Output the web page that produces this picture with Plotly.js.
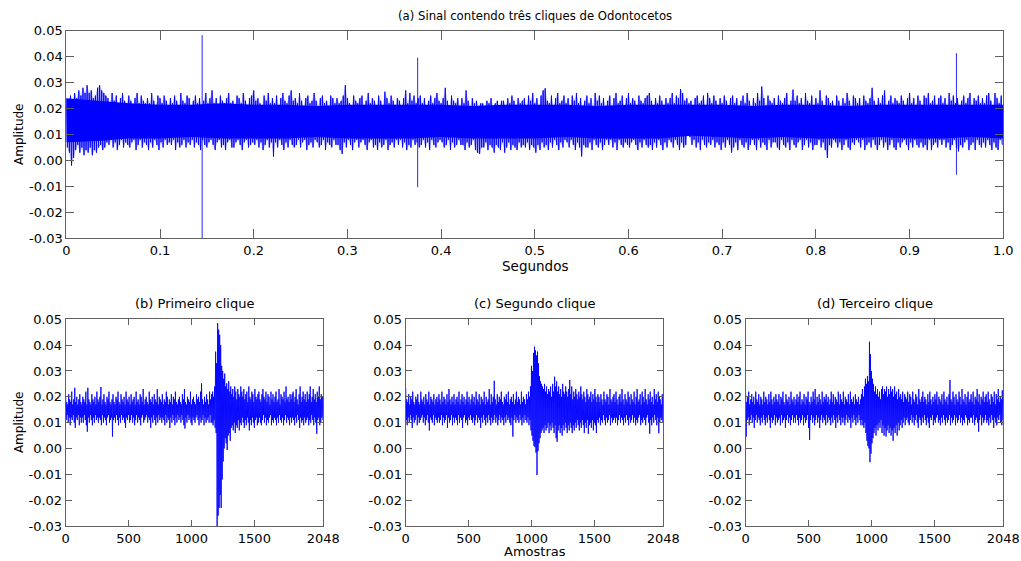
<!DOCTYPE html>
<html>
<head>
<meta charset="utf-8">
<script src="https://cdn.plot.ly/plotly-3.0.1.min.js"></script>
<style>html,body{margin:0;padding:0;background:#fff;}#chart{width:1021px;height:561px;}</style>
</head>
<body>
<div id="chart"></div>
<script>
// ---------------- DATA (amplitudes, in thousandths) ----------------
const MILLI = 0.001;

// Panel (a): 1 s of signal, upper/lower envelope read at 450 instants (every 1/450 s)
const sigA_dt = 1 / 450;
const sigA_hi = [
 24,22,25,23,26,24,27,25,28,26, 29,26,27,24,25,28,29,27,26,25, 24,22,26,23,25,21,24,26,23,22,
 25,23,21,24,26,22,25,23,22,24, 22,26,23,21,25,24,22,25,23,21, 24,22,25,23,21,26,23,22,25,24,
 21,23,25,22,24,21,23,26,22,24, 27,22,24,21,25,23,22,24,26,22, 23,21,25,24,22,26,23,21,24,25,
 27,23,24,22,21,25,23,26,22,24, 22,25,21,24,26,23,22,25,27,23, 24,22,26,23,21,24,25,22,23,26,
 23,21,24,25,22,23,21,25,24,22, 24,22,23,25,29,24,22,21,25,23, 22,24,25,21,23,26,22,24,23,21,
 25,23,21,26.5,24,22,25,23,21,24, 23,21,24,27,22,26,23,25,22,24, 25,22,24,21,23,25,22,24,26,23,
 22,24,28,23,21,25,23,22,24,21, 24,22,27,23,21,24,22,23,21,22, 22,21,23,22,24,21,22,23,21,23,
 23,21,24,22,25,23,21,24,22,23, 24,21,25,23,26,22,24,21,25,27, 27.8,23,22,25,21,24,26,22,23,25,
 22,24,21,25,23,26,22,24,21,23, 25,22,24,21,26,23,25,22,24,21, 23,25,21,24,26,22,23,25,21,24,
 26,22,24,23,21,25,23,22,24,25, 26,23,21,24,22,25,23,21,24,22, 24,26,22,25,24,27.5,26,23,24,22,
 23,21,24,25,22,23,25,21,26,24, 22,25,23,21,24,22,25,23,21,24, 25,22,24,21,23,25,22,26,23,21,
 24,22,26,23,28.5,24,21,25,23,22, 24,21,25,23,22,24,26,21,23,27.3, 23,25,22,24,21,26,23,22,25,21,
 24,22,27,23,21,25,24,22,23,21, 25,23,21,24,22,26,23,21,25,24, 22,24,21,25,23,22,24,28,23,21,
 24,22,25,27,21,23,25,22,24,23, 22,25,23,21,24,26,22,24,21,25, 23,21,25,24,26,22,23,25,21,24,
 25,22,24,21,26,23,25,22,24,21, 23,25,22,24,26,21,24,23,25,22, 24,22,25,26,23,21,26,24,22,25
];
const sigA_lo = [
 5,3,-2,1,4,6,3,5,2,4, 3,5,2,4,3,5,6,4,5,7, 6,8,5,7,4,6,8,5,7,6,
 5,7,8,4,6,8,5,7,6,4, 7,5,8,6,4,7,5,8,6,7, 6,8,4,7,5,6,8,5,7,6,
 8,5,7,6,4,8,6,5,7,8, 6,4,7,8,5,6,4,7,8,5, 5,7,8,6,4,7,8,5,6,7,
 6,8,5,7,4,6,8,5,7,1.5, 7,5,8,6,4,7,5,8,6,5, 6,8,5,7,8,4,6,7,5,8,
 7,5,6,8,4,7,6,5,8,6, 6,4,2.5,7,5,8,6,4,7,8, 5,7,8,6,4,7,8,5,6,4,
 7,5,6,8,4,6,7,5,8,6, 8,5,7,4,6,5,8,6,7,5, 6,8,5,7,4,8,6,5,7,8,
 7,5,6,8,4,7,5,6,8,6, 6,4,7,5,6,8,4,3,2.5,5, 5,7,4,6,5,3,6,5,4,7,
 3,5,7,4,6,5,4,7,5,6, 5,7,4,6,5,3,6,4,7,5, 6,4,7,5,8,6,4,7,5,8,
 7,5,8,6,4,7,5,1.5,6,5, 5,7,4,8,6,5,7,4,6,8, 6,8,5,7,4,8,6,5,7,6,
 5,7,8,6,4,7,5,8,6,5, 6,4,7,5,8,6,4,7,5,8, 7,5,8,6,4,7,5,6,11,9,
 6,8,5,7,4,8,6,5,7,6, 8,5,7,6,4,7,5,8,6,3, 5,7,4,8,6,5,7,4,6,8,
 6,4,8,5,7,6,4,8,5,7, 7,5,4,8,6,5,7,4,8,6, 5,7,8,4,6,8,5,7,4,6,
 6,8,5,7,4,1,6,5,8,7, 5,7,4,6,8,5,4,7,6,8, 7,5,8,4,6,7,5,8,6,4,
 6,8,5,7,4,6,8,5,4,7, 5,7,8,6,4,7,5,8,6,5, 7,5,6,4,8,4,6,7,5,8,
 6,8,5,7,4,6,8,5,3.5,6, 5,7,8,4,6,7,4,8,6,5, 7,5,8,6,4,7,5,4,8,6
];
// dense (solid) core of panel (a), every 1/30 s
const coreA_dt = 1 / 30;
const coreA_hi = [24,23,22,21.5,21.5,22,21.5,21.5,21,21.5,21.5,21.5,21.5,21,21.5,21.5,21.5,21,21.5,21.5,21.5,21.5,21,21.5,21.5,21,21.5,21.5,21.5,21.5,21.5];
const coreA_lo = [7,7.5,8.5,8.5,9,8.5,8.5,8.5,9,8.5,8.5,8.5,9,8.5,8.5,8.5,9,8.5,8.5,8.5,9.5,9,8.5,9,8.5,8.5,9,8.5,8.5,9,8.5];
// the three clicks in panel (a)
const clickTimes = [0.145, 0.375, 0.95];
const clickMax = [48.3, 39.6, 41.3];
const clickMin = [-30, -10.3, -5.5];

// Panels (b),(c),(d): 2048 samples each, envelope read every 8 samples (256 values)
const sampleStep = 8;
const sigB_hi = [
 20,18,17,21,19,18,22,17,19,23.5,18,20,17,19,21,18,
 17,20,19,18,22,17,23.5,19,18,17,21,19,18,20,17,22,
 19,18,20,23.8,17,19,21,18,17,20,19,22,18,17,19,21,
 18,17,20,19,22,18,17,21,19,18,20,17,22,19,18,20,
 17,21,18,19,20,17,22,18,19,17,21,20,18,23,17,19,
 20,18,17,22,19,18,20,17,21,19,18,23,17,20,19,18,
 21,17,19,18,22,20,17,19,18,21,17,20,19,22,18,17,
 19,20,18,17,21,19,23,18,17,20,19,18,22,17,19,20,
 18,17,21,19,20,18,22,25.2,19,17,20,18,21,19,17,22,
 19,21,22,20,24,37.5,33,48.5,46,44,40,32,30,27,29,24,
 25.2,23,26,22,24,21,23,20,24,22,19,23,21,20,24,22,
 20,23,19,21,22,18,24,20,19,22,21,18,23,20,19,21,
 22,19,18,21,23,20,19,22,18,21,20,17,22,19,21,18,
 20,22,18,19,23,17,21,20,19,22,18,24,19,20,18,21,
 19,21,22,18,20,23,19,17,21,24,18,20,22,19,21,18,
 22,19,21,24,18,20,23,19,21,18,22,20,24,19,21,20
];
const sigB_lo = [
 11,13,10,12,9,12,11,13,10,8,12,11,13,9,12,10,
 12,10,13,11,9,6.5,12,10,13,11,9,12,10,13,11,12,
 10,12,11,9,13,10,12,11,9,12,13,10,11,12,4.6,11,
 12,10,13,11,9,12,10,13,11,12,10,8,12,11,13,10,
 11,13,10,12,9,11,13,10,12,11,9,12,13,10,11,12,
 13,10,12,11,8,12,10,13,11,9,12,10,13,11,12,10,
 12,11,9,13,10,12,11,8,12,10,13,11,9,12,10,13,
 11,12,10,13,11,9,7.7,12,10,13,11,12,10,9,12,11,
 10,12,13,11,9,12,10,11,13,9,12,10,11,12,10,13,
 10,10,9,11,8,6,-30,-26,-23,-18,-23,-12,-5,0,4,2,
 -0.6,5,6,3,8,9,7,10,6,9,8,11,7,10,9,12,
 10,8,11,9,12,10,7,11,9,12,10,8,11,12,9,10,
 12,10,9,11,13,10,12,9,11,10,12,13,9,11,10,12,
 11,9,12,10,13,11,10,12,9,11,13,10,12,11,9,12,
 10,12,11,9,12,10,13,11,8,12,10,11,9,12,10,11,
 12,9,11,10,13,11,9,12,10,5.7,11,12,9,10,12,11
];
const sigC_hi = [
 23.5,19,18,21,17,20,19,22,18,17,20,19,21,18,17,22,
 19,18,20,17,21,19,18,22,17,20,19,18,21,17,19,20,
 18,21,19,17,22,18,20,19,17,21,18,23,19,17,20,18,
 21,17,19,20,18,22,17,19,21,18,20,17,19,22,18,20,
 17,19,21,18,20,17,22,19,18,21,17,20,19,18,22,17,
 20,18,19,23,17,21,18,20,26.2,19,17,21,18,20,19,22,
 18,17,20,19,21,18,22,17,19,20,18,21,17,19,22,18,
 20,19,17,22,18,20,19,17,21,19,22,20,24,32,30,37,
 39.4,38,36,37.5,33,28,26,25,24,23,25,22,24,21,23,22,
 24,20,25,22,27.8,24,26,22,24,21,23,20,25,22,21,24,
 22,20,23,26.5,21,24,19,22,20,23,21,19,22,20,24,21,
 19,22,20,18,23,21,19,20,22,18,21,19,23,20,18,21,
 20,18,21,19,17,22,19,18,21,20,17,23,19,18,20,21,
 18,22,19,17,20,21,18,23,19,17,21,19,18,22,20,17,
 21,19,18,22,17,20,23,18,19,21,17,22,20,18,23,19,
 17,21,19,22,18,20,17,23,19,21,18,22,20,19,17,21
];
const sigC_lo = [
 11,9,12,10,13,11,8,12,10,11,13,9,12,10,11,12,
 13,10,12,9,11,13,10,7,12,11,10,13,9,12,11,10,
 12,10,11,13,9,12,10,11,13,8,12,10,11,13,9,12,
 10,12,11,9,13,10,12,11,8,12,13,10,11,9,12,11,
 13,11,10,12,9,11,13,10,12,11,8,12,10,13,11,9,
 12,10,13,11,9,12,10,11,13,10,12,9,11,13,10,12,
 11,9,12,10,13,11,12,10,9,12,4.6,11,13,10,12,11,
 10,13,11,9,12,10,13,11,10,12,9,11,7,5,3,1,
 0.5,-1.6,-10.3,-1,2,4,6,7,8,6,9,7,8,10,6,9,
 7,10,8,6,9,4,2.6,7,9,6,8,5,9,7,10,8,
 6,9,7,10,8,6,9,7,10,8,11,9,7,10,8,11,
 9,6,10,8,11,5.7,9,10,8,11,7,10,9,6,11,10,
 12,9,11,10,13,11,9,12,10,11,13,9,12,10,11,12,
 10,12,9,11,13,10,12,11,9,12,10,13,11,9,12,10,
 11,13,10,12,9,11,10,12,13,9,11,10,12,11,9,12,
 13,10,5.7,11,9,12,10,13,11,9,12,5.9,10,12,11,10
];
const sigD_hi = [
 21,18,20,22,17,19,21,18,20,17,22,19,18,21,17,20,
 19,17,22,18,20,19,17,21,18,22,19,17,20,18,21,19,
 18,21,17,20,19,22,18,17,21,19,18,20,17,22,19,18,
 20,17,19,21,18,20,22,17,19,18,21,17,20,19,22,18,
 17,20,18,22,19,23,17,20,18,21,19,17,22,18,20,19,
 21,18,20,17,19,22,18,21,17,20,19,18,22,17,21,19,
 18,22,17,20,19,18,21,17,22,19,18,20,17,21,19,18,
 20,17,19,21,23,20,24,27,25,28,26,41.3,36.5,30,27,25,
 22,24,21,23,20,22,19,23,24,21,23,22,24,20,23,21,
 24,22,23,20,24,21,22,19,23,20,21,19,22,18,21,20,
 19,22,18,21,20,17,22,19,18,21,20,17,23,19,18,20,
 22,18,20,19,17,21,18,22,19,17,20,18,21,19,22,17,
 20,19,18,21,17,22,19,18,20,17,21,26.5,19,18,22,20,
 17,21,19,18,22,20,17,23,19,18,21,17,20,22,18,19,
 21,18,22,17,20,19,23,18,21,17,20,19,22,18,20,21,
 18,22,19,17,21,20,18,22,17,21,19,23,18,20,19,22.5
];
const sigD_lo = [
 4.6,11,12,9,11,13,10,12,8,11,13,10,12,11,9,12,
 10,13,11,9,12,10,13,11,8,12,10,11,13,9,12,10,
 11,12,9,13,10,11,12,8,11,13,10,12,9,11,13,10,
 12,10,13,11,9,12,10,11,13,9,12,10,11,13,8,3.3,
 11,13,10,12,9,11,13,10,12,8,11,13,10,12,11,9,
 13,10,12,11,9,12,10,13,11,8,12,10,13,11,9,12,
 10,12,9,11,13,10,12,11,8,12,10,13,11,9,12,10,
 13,11,9,11,9,8,10,6,3,1,0,-5.3,-2,2,4,6,
 8,5,9,7,10,8,11,6,9,5,8,4.6,7,9,6,8,
 5,7,3,8,6,9,5,10,7,9,11,8,10,12,9,11,
 12,10,9,11,13,10,12,9,11,13,10,8,12,11,9,12,
 10,13,11,9,12,10,8,12,11,13,9,11,10,12,13,10,
 11,9,12,10,13,11,9,12,10,11,13,9,12,10,11,13,
 9,12,10,11,13,10,12,9,11,10,13,12,9,11,10,12,
 12,10,13,9,11,12,10,6.5,11,13,9,12,10,11,13,10,
 11,9,12,10,13,11,8,12,10,9,12,11,13,10,9,11
];

// axis ticks
const yTickVals = [-0.03,-0.02,-0.01,0,0.01,0.02,0.03,0.04,0.05];
const yTickText = ['-0.03','-0.02','-0.01','0.00','0.01','0.02','0.03','0.04','0.05'];
const xTopTickVals = [0,0.1,0.2,0.3,0.4,0.5,0.6,0.7,0.8,0.9,1.0];
const xTopTickText = ['0','0.1','0.2','0.3','0.4','0.5','0.6','0.7','0.8','0.9','1.0'];
const xBotTickVals = [0,500,1000,1500,2048];
const xBotTickText = ['0','500','1000','1500','2048'];

const titleA = '(a) Sinal contendo três cliques de Odontocetos';
const titleB = '(b) Primeiro clique';
const titleC = '(c) Segundo clique';
const titleD = '(d) Terceiro clique';
const xLabelTop = 'Segundos';
const xLabelBot = 'Amostras';
const yLabel = 'Amplitude';

// ---------------- BUILD ----------------
const BLUE = '#0000ff';
const FONT = 'DejaVu Sans';
const AXC = '#606060';

function zigzag(hi, lo, step) {
  const x = [], y = [];
  for (let i = 0; i < hi.length; i++) {
    x.push(i * step); y.push(hi[i] * MILLI);
    x.push((i + 0.5) * step); y.push(lo[i] * MILLI);
  }
  return {x, y};
}
function envelopePolygon(hi, lo, step, xa, ya, color) {
  const x = [], y = [];
  hi.forEach((v, i) => { x.push(i * step); y.push(v * MILLI); });
  for (let i = lo.length - 1; i >= 0; i--) { x.push((i + 0.5) * step); y.push(lo[i] * MILLI); }
  return {x, y, xaxis: xa, yaxis: ya, type: 'scatter', mode: 'lines', fill: 'toself',
          fillcolor: color, line: {width: 0, color: color}, hoverinfo: 'skip'};
}
function sigTrace(hi, lo, step, xa, ya, color) {
  const z = zigzag(hi, lo, step);
  return {x: z.x, y: z.y, xaxis: xa, yaxis: ya, type: 'scatter', mode: 'lines',
          line: {color: color, width: 1}, hoverinfo: 'skip'};
}

const traces = [];
// panel (a): light fringe, dense core, signal lines, clicks
traces.push(envelopePolygon(sigA_hi, sigA_lo, sigA_dt, 'x', 'y', 'rgba(70,70,255,0.35)'));
const coreX = coreA_hi.map((_, i) => i * coreA_dt);
traces.push({x: coreX, y: coreA_lo.map(v => v * MILLI), xaxis: 'x', yaxis: 'y', type: 'scatter', mode: 'lines',
             line: {color: BLUE, width: 0}, hoverinfo: 'skip'});
traces.push({x: coreX, y: coreA_hi.map(v => v * MILLI), xaxis: 'x', yaxis: 'y', type: 'scatter', mode: 'lines',
             fill: 'tonexty', fillcolor: BLUE, line: {color: BLUE, width: 0}, hoverinfo: 'skip'});
traces.push(sigTrace(sigA_hi, sigA_lo, sigA_dt, 'x', 'y', 'rgba(0,0,255,0.9)'));
const cx = [], cy = [];
clickTimes.forEach((t, i) => { cx.push(t, t, null); cy.push(clickMax[i] * MILLI, clickMin[i] * MILLI, null); });
traces.push({x: cx, y: cy, xaxis: 'x', yaxis: 'y', type: 'scatter', mode: 'lines', line: {color: 'rgba(0,0,255,0.85)', width: 1}, hoverinfo: 'skip'});
// panels (b),(c),(d)
[[sigB_hi, sigB_lo, 'x2', 'y2'], [sigC_hi, sigC_lo, 'x3', 'y3'], [sigD_hi, sigD_lo, 'x4', 'y4']].forEach(p => {
  traces.push(sigTrace(p[0], p[1], sampleStep, p[2], p[3], 'rgba(0,0,255,0.88)'));
});

const W = 1021, H = 561;
const px = v => v / W, py = v => 1 - v / H;

function xAxis(domain, range, vals, text, anchor, tlen) {
  return {domain, range, anchor, tickvals: vals, ticktext: text, showgrid: false, zeroline: false,
          showline: true, linecolor: AXC, linewidth: 1, mirror: 'ticks', ticks: 'inside', ticklen: tlen,
          tickcolor: AXC, tickwidth: 1, tickfont: {family: FONT, size: 13, color: '#000'}, fixedrange: true};
}
function yAxis(domain, anchor, tlen) {
  return {domain, range: [-0.03, 0.05], anchor, tickvals: yTickVals, ticktext: yTickText, showgrid: false, zeroline: false,
          showline: true, linecolor: AXC, linewidth: 1, mirror: 'ticks', ticks: 'inside', ticklen: tlen,
          tickcolor: AXC, tickwidth: 1, tickfont: {family: FONT, size: 13, color: '#000'}, fixedrange: true};
}

const topY = [py(238.3), py(30.7)];
const botY = [py(526), py(319.3)];
const layout = {
  width: W, height: H, margin: {l: 0, r: 0, t: 0, b: 0},
  paper_bgcolor: '#fff', plot_bgcolor: '#fff', showlegend: false,
  font: {family: FONT, size: 13, color: '#000'},
  xaxis: xAxis([px(66.3), px(1003.3)], [0, 1], xTopTickVals, xTopTickText, 'y', 9),
  yaxis: yAxis(topY, 'x', 8),
  xaxis2: xAxis([px(65.7), px(323.3)], [0, 2048], xBotTickVals, xBotTickText, 'y2', 6),
  yaxis2: yAxis(botY, 'x2', 6),
  xaxis3: xAxis([px(405.7), px(663.3)], [0, 2048], xBotTickVals, xBotTickText, 'y3', 6),
  yaxis3: yAxis(botY, 'x3', 6),
  xaxis4: xAxis([px(745.7), px(1003.3)], [0, 2048], xBotTickVals, xBotTickText, 'y4', 6),
  yaxis4: yAxis(botY, 'x4', 6),
  annotations: [
    {text: titleA, x: px(535), y: py(16), font: {family: FONT, size: 11.7, color: '#000'}},
    {text: xLabelTop, x: px(535), y: py(266), font: {family: FONT, size: 13.5, color: '#000'}},
    {text: titleB, x: px(194.5), y: py(303)},
    {text: titleC, x: px(534.5), y: py(303)},
    {text: titleD, x: px(874.5), y: py(303)},
    {text: xLabelBot, x: px(534.5), y: py(551)},
    {text: yLabel, x: px(18.5), y: py(134.5), textangle: -90, font: {family: FONT, size: 12, color: '#000'}},
    {text: yLabel, x: px(18.5), y: py(422.6), textangle: -90, font: {family: FONT, size: 12, color: '#000'}}
  ].map(a => Object.assign({xref: 'paper', yref: 'paper', xanchor: 'center', yanchor: 'middle', showarrow: false,
                            font: {family: FONT, size: 13, color: '#000'}}, a))
};

Plotly.newPlot('chart', traces, layout, {staticPlot: true, displayModeBar: false});
</script>
</body>
</html>
